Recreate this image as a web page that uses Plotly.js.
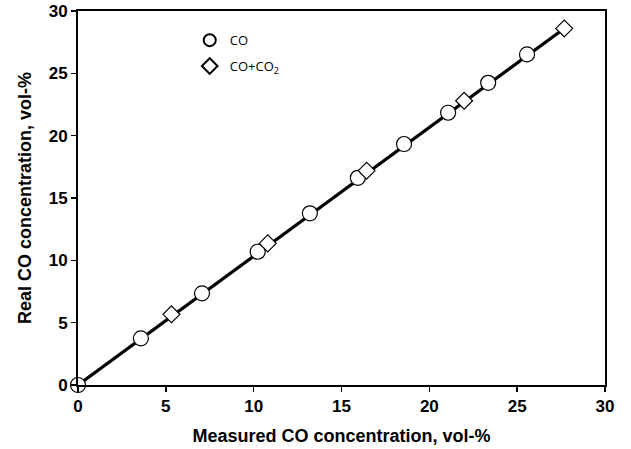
<!DOCTYPE html>
<html>
<head>
<meta charset="utf-8">
<script src="https://cdn.plot.ly/plotly-3.0.1.min.js"></script>
<style>html,body{margin:0;padding:0;background:#fff;}#chart{width:631px;height:449px;}</style>
</head>
<body>
<div id="chart"></div>
<script>
// Data
const coMeasured = [0, 3.58, 7.06, 10.23, 13.2, 15.93, 18.56, 21.07, 23.35, 25.56];
const coReal     = [0, 3.74, 7.35, 10.69, 13.77, 16.62, 19.33, 21.84, 24.24, 26.52];
const mixMeasured = [5.32, 10.8, 16.43, 21.98, 27.68];
const mixReal     = [5.67, 11.36, 17.19, 22.8, 28.6];
const fitX = [0, 27.68];
const fitY = [0, 28.6];
const tickVals = [0, 5, 10, 15, 20, 25, 30];
const tickText = ['0', '5', '10', '15', '20', '25', '30'];

const traces = [
  {x: fitX, y: fitY, mode: 'lines', line: {color: '#000', width: 3.2}, showlegend: false, hoverinfo: 'skip', cliponaxis: false},
  {x: coMeasured, y: coReal, mode: 'markers', name: 'CO', legendgroup: 'a',
   marker: {symbol: 'circle', size: 15, color: '#fff', line: {color: '#000', width: 1.2}}, cliponaxis: false},
  {x: mixMeasured, y: mixReal, mode: 'markers', name: 'CO+CO<sub>2</sub>', legendgroup: 'b',
   marker: {symbol: 'diamond', size: 13, color: '#fff', line: {color: '#000', width: 1.2}}, cliponaxis: false}
];

const axisCommon = {
  range: [0, 30], tickvals: tickVals, ticktext: tickText,
  ticks: 'outside', ticklen: 5, tickwidth: 1.5, tickcolor: '#000',
  showline: true, linecolor: '#000', linewidth: 2, mirror: true,
  showgrid: false, zeroline: false,
  tickfont: {family: 'Liberation Sans, Arial, sans-serif', size: 17, color: '#000', weight: 700}
};

const layout = {
  width: 631, height: 449,
  margin: {l: 78, r: 26, t: 11, b: 64},
  paper_bgcolor: '#fff', plot_bgcolor: '#fff',
  showlegend: true,
  legend: {x: 0.212, y: 0.962, xanchor: 'left', yanchor: 'top', traceorder: 'grouped', tracegroupgap: 6,
           itemsizing: 'constant', itemwidth: 30,
           font: {family: 'Open Sans, sans-serif', size: 13, color: '#000'}, bgcolor: 'rgba(0,0,0,0)'},
  xaxis: Object.assign({}, axisCommon, {
    title: {text: 'Measured CO concentration, vol-%', standoff: 14,
            font: {family: 'Liberation Sans, Arial, sans-serif', size: 18, color: '#000', weight: 700}}
  }),
  yaxis: Object.assign({}, axisCommon, {
    title: {text: 'Real CO concentration, vol-%', standoff: 12,
            font: {family: 'Liberation Sans, Arial, sans-serif', size: 18, color: '#000', weight: 700}}
  })
};

Plotly.newPlot('chart', traces, layout, {displayModeBar: false, staticPlot: true});
</script>
</body>
</html>
